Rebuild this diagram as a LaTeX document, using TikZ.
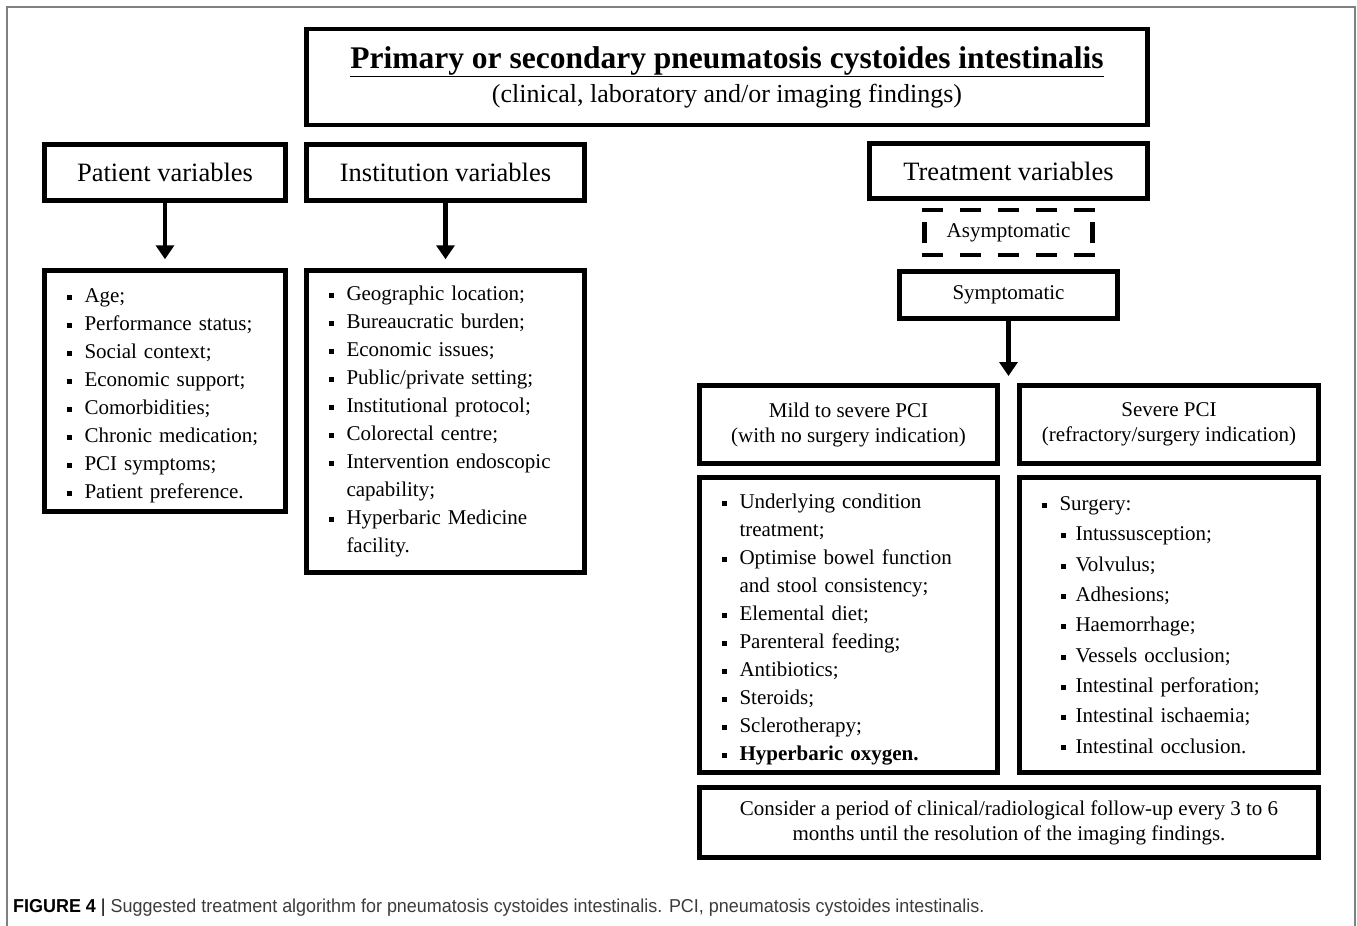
\documentclass[tikz,border=0pt]{standalone}
\usepackage{fontspec}
\setmainfont{Liberation Serif}
\newfontfamily\capfont[FakeStretch=0.96]{Liberation Sans}
\usepackage{tikz}
\usetikzlibrary{arrows.meta}
\definecolor{framegray}{RGB}{128,128,128}
\definecolor{capgray}{RGB}{60,60,60}
\newcommand{\sqb}{\rule[0.12em]{0.24em}{0.24em}}
\newcommand{\itm}[1]{\makebox[18pt][l]{\sqb}#1}
\newcommand{\subitm}[1]{\hspace*{19pt}\makebox[15pt][l]{\sqb}#1}
\newcommand{\topstrut}{\rule{0pt}{24pt}}
\tikzset{
	box/.style 2 args={draw,line width=4.5pt,minimum width=#1,minimum height=#2,inner sep=0pt,align=center,font=\fontsize{21}{25}\selectfont},
	hdr/.style 2 args={box={#1}{#2},font=\fontsize{26.5}{30}\selectfont},
	lst/.style 2 args={draw,line width=4.5pt,text width=#1,minimum height=#2,inner xsep=22pt,inner ysep=0pt,align=left,font=\fontsize{21}{28}\selectfont},
	arr/.style={line width=4.5pt,-{Triangle[width=18pt,length=14pt]},shorten >=9pt},
	dashline/.style={line width=4.5pt,dash pattern=on 21pt off 17pt}
}

\begin{document}
\begin{tikzpicture}[x=1pt,y=-1pt]
	\useasboundingbox (0,0) rectangle (1357,926);
	\draw[framegray,line width=2pt] (7,926) -- (7,7) -- (1355,7) -- (1355,926);

	% top
	\node [box={841pt}{96pt},font=\fontsize{26}{34}\selectfont] (title) at (727,77)
		{{\fontsize{31.5}{34}\selectfont\bfseries\underline{Primary or secondary pneumatosis cystoides intestinalis}}\\(clinical, laboratory and/or imaging findings)};

	% variables
	\node [hdr={241pt}{56pt}] (patvar) at (165,172.5) {Patient variables};
	\node [hdr={278pt}{56pt}] (instvar) at (445.5,172.5) {Institution variables};
	\node [hdr={278pt}{55pt}] (treatvar) at (1008.5,171) {Treatment variables};

	\node [lst={197pt}{241pt}] (patlist) at (165,391)
		{\topstrut\itm{Age;}\\\itm{Performance status;}\\\itm{Social context;}\\\itm{Economic support;}\\
		\itm{Comorbidities;}\\\itm{Chronic medication;}\\\itm{PCI symptoms;}\\\itm{Patient preference.}};
	\node [lst={234pt}{302pt}] (instlist) at (445.5,421.5)
		{\itm{Geographic location;}\\\itm{Bureaucratic burden;}\\\itm{Economic issues;}\\\itm{Public/private setting;}\\
		\itm{Institutional protocol;}\\\itm{Colorectal centre;}\\\itm{Intervention endoscopic}\\\hspace*{18pt}capability;\\
		\itm{Hyperbaric Medicine}\\\hspace*{18pt}facility.};

	% treatment
	\node [minimum width=168pt,minimum height=45pt,inner sep=0pt,font=\fontsize{21}{25}\selectfont] (asym) at (1008.5,232.5) {Asymptomatic};
	\draw[dashline] ([xshift=-2.25pt]asym.north west) -- ([xshift=2.25pt]asym.north east);
	\draw[dashline] ([xshift=-2.25pt]asym.south west) -- ([xshift=2.25pt]asym.south east);
	\draw[line width=4.5pt] ([yshift=10.5pt]asym.west) -- ([yshift=-10.5pt]asym.west);
	\draw[line width=4.5pt] ([yshift=10.5pt]asym.east) -- ([yshift=-10.5pt]asym.east);
	\node [box={218pt}{47pt}] (sym) at (1008.5,295) {Symptomatic};
	\coordinate (split) at (1008.5,376);

	\node [box={298pt}{78pt}] (mild) at (848.5,424.5) {Mild to severe PCI\\(with no surgery indication)};
	\node [box={299pt}{78pt}] (severe) at (1169,424.5) {Severe PCI\\(refractory/surgery indication)};

	\node [lst={254pt}{295pt}] (mildlist) at (848.5,625)
		{\topstrut\itm{Underlying condition}\\\hspace*{18pt}treatment;\\\itm{Optimise bowel function}\\\hspace*{18pt}and stool consistency;\\
		\itm{Elemental diet;}\\\itm{Parenteral feeding;}\\\itm{Antibiotics;}\\\itm{Steroids;}\\\itm{Sclerotherapy;}\\
		\textbf{\itm{Hyperbaric oxygen.}}};
	\node [lst={255pt}{295pt},font=\fontsize{21}{30.3}\selectfont] (severelist) at (1169,625)
		{\itm{Surgery:}\\\subitm{Intussusception;}\\\subitm{Volvulus;}\\\subitm{Adhesions;}\\\subitm{Haemorrhage;}\\
		\subitm{Vessels occlusion;}\\\subitm{Intestinal perforation;}\\\subitm{Intestinal ischaemia;}\\\subitm{Intestinal occlusion.}};

	\node [box={619pt}{70pt}] (follow) at (1009,822.5)
		{Consider a period of clinical/radiological follow-up every 3 to 6\\months until the resolution of the imaging findings.};

	\draw[arr] (patvar) -- (patlist);
	\draw[arr] (instvar) -- (instlist);
	\draw[arr,shorten >=0pt] (sym) -- (split);

	% caption
	\node [anchor=base west,inner sep=0pt,text=capgray,font=\capfont\fontsize{18.7}{22}\selectfont] (caption) at (13,912)
		{{\color{black}\bfseries FIGURE 4} {\color{black}|} Suggested treatment algorithm for pneumatosis cystoides intestinalis. PCI, pneumatosis cystoides intestinalis.};
\end{tikzpicture}
\end{document}
